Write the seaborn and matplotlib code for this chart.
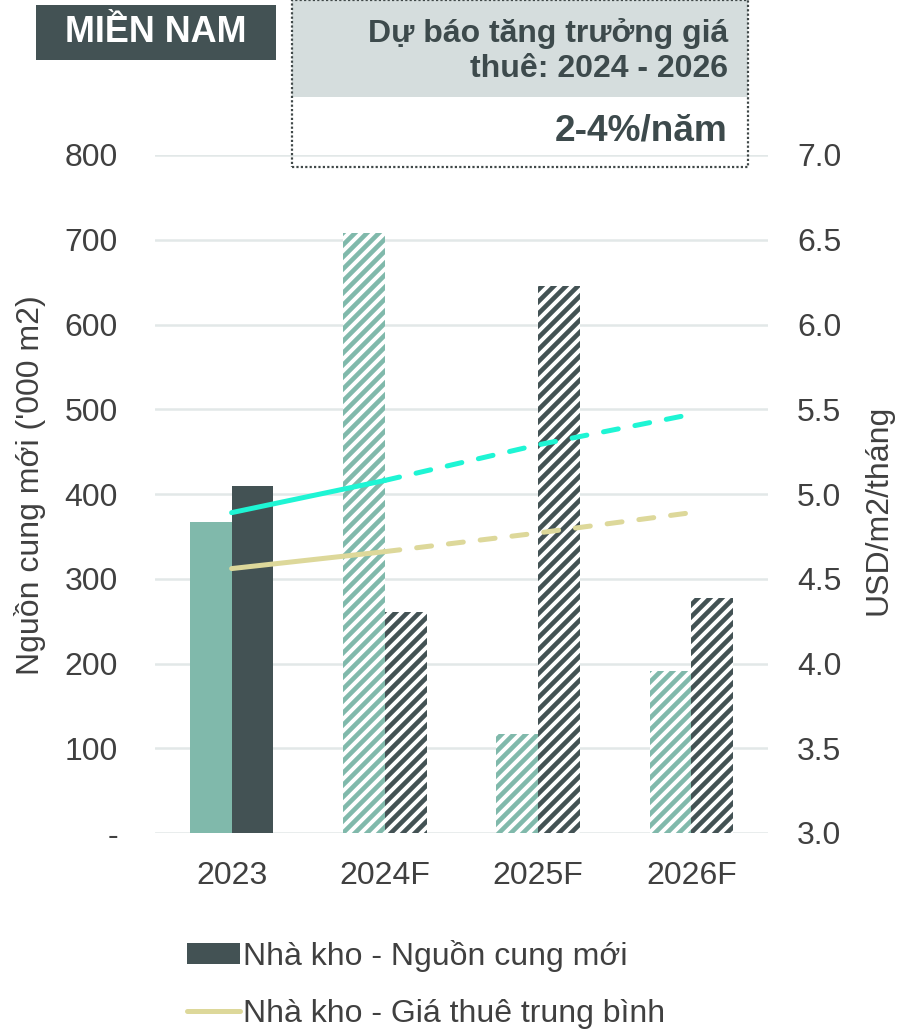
import matplotlib
matplotlib.use("Agg")
import matplotlib.pyplot as plt
import numpy as np
import pandas as pd
import seaborn as sns
from matplotlib.patches import Rectangle, Patch
from matplotlib.lines import Line2D

# ---- data ----
years = ["2023", "2024F", "2025F", "2026F"]
factory_supply = [367, 708, 117, 191]      # teal bars ('000 m2)
warehouse_supply = [410, 261, 645, 277]    # dark bars ('000 m2)
factory_rent = [4.89, 5.08, 5.29, 5.47]    # cyan line (USD/m2/tháng)
warehouse_rent = [4.56, 4.66, 4.77, 4.89]  # sand line (USD/m2/tháng)
left_ticks = [0, 100, 200, 300, 400, 500, 600, 700, 800]
left_labels = ["-", "100", "200", "300", "400", "500", "600", "700", "800"]
right_ticks = [3.0, 3.5, 4.0, 4.5, 5.0, 5.5, 6.0, 6.5, 7.0]
right_labels = ["3.0", "3.5", "4.0", "4.5", "5.0", "5.5", "6.0", "6.5", "7.0"]
series_names = ["Nhà xưởng - Nguồn cung mới", "Nhà kho - Nguồn cung mới"]

TEAL = "#80b9ab"
DARK = "#435254"
CYAN = "#1ef5d4"
SAND = "#ddd89a"
GRID = "#e2e8e8"
TEXT = "#404040"
SLATE = "#3d4a4c"

sns.set_theme(style="white")
plt.rcParams["font.family"] = ["Liberation Sans", "DejaVu Sans"]
plt.rcParams["hatch.linewidth"] = 4.6

FS = 32
W, H, DPI = 914, 1031, 72
fig = plt.figure(figsize=(W / DPI, H / DPI), dpi=DPI)
ax = fig.add_axes([155 / W, 1 - 833 / H, (768 - 155) / W, (833 - 155) / H])

df = pd.DataFrame({
    "year": years * 2,
    "supply": factory_supply + warehouse_supply,
    "series": [series_names[0]] * 4 + [series_names[1]] * 4,
})
sns.barplot(data=df, x="year", y="supply", hue="series", order=years,
            hue_order=series_names, palette=[TEAL, DARK], width=0.545,
            saturation=1, legend=False, ax=ax, zorder=2)

# forecast years drawn as striped bars
for container, color in zip(ax.containers, [TEAL, DARK]):
    for i, bar in enumerate(container):
        bar.set_linewidth(0)
        if i > 0:
            bar.set_facecolor("white")
            bar.set_edgecolor(color)
            bar.set_hatch("//")

ax.set_xlim(-0.5, 3.5)
ax.set_ylim(0, 800)
ax.set_yticks(left_ticks)
ax.set_yticklabels(left_labels)
ax.yaxis.grid(True, color=GRID, linewidth=2.5, zorder=0)
ax.set_axisbelow(True)
for s in ax.spines.values():
    s.set_visible(False)
ax.tick_params(axis="both", length=0, labelsize=FS, labelcolor=TEXT)
ax.tick_params(axis="y", pad=37)
ax.tick_params(axis="x", pad=28)
ax.set_xlabel("")
ax.set_ylabel("")

# rent lines on secondary axis
ax2 = ax.twinx()
ax2.set_ylim(3.0, 7.0)
ax2.set_yticks(right_ticks)
ax2.set_yticklabels(right_labels)
for s in ax2.spines.values():
    s.set_visible(False)
ax2.tick_params(axis="y", length=0, labelsize=FS, labelcolor=TEXT, pad=29)
ax2.grid(False)

x = np.arange(len(years))
for vals, color in [(factory_rent, CYAN), (warehouse_rent, SAND)]:
    sns.lineplot(x=x[:2], y=vals[:2], color=color, linewidth=5,
                 solid_capstyle="round", ax=ax2)
    sns.lineplot(x=x[1:], y=vals[1:], color=color, linewidth=5,
                 linestyle=(0, (3, 3.4)), dash_capstyle="round", ax=ax2)
ax2.set_ylabel("")

# axis titles
fig.text(30 / W, 1 - 485 / H, "Nguồn cung mới ('000 m2)", rotation=90,
         ha="center", va="center", fontsize=FS, color=TEXT)
fig.text(878 / W, 1 - 510 / H, "USD/m2/tháng", rotation=90,
         ha="center", va="center", fontsize=FS, color=TEXT)

# region badge
fig.patches.append(Rectangle((36 / W, 1 - 60 / H), 240 / W, 55 / H,
                             transform=fig.transFigure, facecolor=DARK,
                             edgecolor="none", zorder=5))
fig.text(156 / W, 1 - 33 / H, "MIỀN NAM", ha="center", va="center",
         fontsize=36, fontweight="bold", color="white", zorder=6)

# forecast box
fig.patches.append(Rectangle((292 / W, 1 - 97 / H), 456 / W, 97 / H,
                             transform=fig.transFigure, facecolor="#d5dddd",
                             edgecolor="none", zorder=5))
fig.patches.append(Rectangle((292 / W, 1 - 167 / H), 456 / W, 167 / H,
                             transform=fig.transFigure, facecolor="none",
                             edgecolor="#404848", linewidth=2.2,
                             linestyle=(0, (1, 1)), zorder=6))
fig.text(728 / W, 1 - 51 / H, "Dự báo tăng trưởng giá\nthuê: 2024 - 2026",
         ha="right", va="center", fontsize=32, fontweight="bold",
         color=SLATE, linespacing=1.2, zorder=7)
fig.text(728 / W, 1 - 131 / H, "2-4%/năm", ha="right", va="center",
         fontsize=37, fontweight="bold", color=SLATE, zorder=7)

# legend
handles = [Patch(facecolor=DARK, edgecolor="none"),
           Line2D([0], [0], color=SAND, linewidth=5)]
labels = ["Nhà kho - Nguồn cung mới", "Nhà kho - Giá thuê trung bình"]
fig.legend(handles, labels, loc="upper left",
           bbox_to_anchor=(187 / W, 1 - 940 / H), frameon=False,
           fontsize=FS, labelcolor=TEXT, handlelength=1.66,
           handleheight=0.63, handletextpad=0.1, labelspacing=0.85,
           borderpad=0, borderaxespad=0)

fig.savefig("out.png", dpi=DPI)
